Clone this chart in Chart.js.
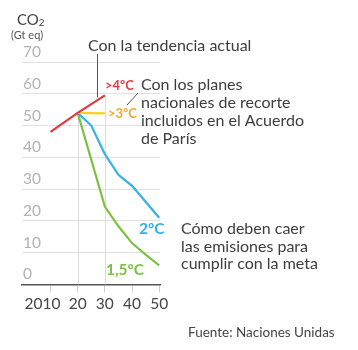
<!DOCTYPE html>
<html>
<head>
<meta charset="utf-8">
<script src="https://cdn.jsdelivr.net/npm/chart.js"></script>
<style>
  html, body { margin: 0; padding: 0; background: #fff; }
  #wrap { width: 358px; height: 350px; position: relative; }
</style>
</head>
<body>
<div id="wrap"><canvas id="co2Chart"></canvas></div>
<script type="text/javascript">
    // emisiones globales, Gt CO2 eq
    var years = [2010, 2020, 2025, 2030, 2035, 2040, 2045, 2050];
    var tendencia = [48, 54, null, 59.5, null, null, null, null];
    var planesParis = [null, 54, null, 53.8, null, null, null, null];
    var meta2 = [null, 54, 50, 41, 34.5, 31, 26, 21];
    var meta15 = [null, 54, null, 24.5, 18.3, 13, 9.4, 6];
    var xTicks = [2010, 2020, 2030, 2040, 2050];
    var yTicks = [0, 10, 20, 30, 40, 50, 60, 70];
    var markerYears = [2020, 2030];

    var FONT = 'Lato, "Open Sans", sans-serif';

    function toPoints(values) {
        var pts = [];
        for (var i = 0; i < years.length; i++) {
            if (values[i] !== null) pts.push({ x: years[i], y: values[i] });
        }
        return pts;
    }

    function lineSet(label, values, color) {
        return {
            label: label,
            data: toPoints(values),
            borderColor: color,
            borderWidth: 2.2,
            pointRadius: 0,
            tension: 0,
            fill: false,
            clip: false
        };
    }

    // grey drop lines under the 2020 / 2030 points
    var dropLines = {
        id: 'dropLines',
        beforeDatasetsDraw: function (chart) {
            var ctx = chart.ctx;
            var xs = chart.scales.x, ys = chart.scales.y;
            ctx.save();
            ctx.strokeStyle = '#dcdcdc';
            ctx.lineWidth = 1;
            markerYears.forEach(function (yr) {
                var top = 0;
                [tendencia, planesParis, meta2, meta15].forEach(function (s) {
                    var v = s[years.indexOf(yr)];
                    if (v !== null && v > top) top = v;
                });
                var px = Math.round(xs.getPixelForValue(yr)) + 0.5;
                ctx.beginPath();
                ctx.moveTo(px, ys.getPixelForValue(top));
                ctx.lineTo(px, ys.getPixelForValue(0));
                ctx.stroke();
            });
            ctx.restore();
        }
    };

    // texts and leader lines
    var notes = {
        id: 'notes',
        afterDraw: function (chart) {
            var ctx = chart.ctx;
            var xs = chart.scales.x, ys = chart.scales.y;
            ctx.save();
            ctx.textBaseline = 'middle';
            ctx.textAlign = 'left';

            ctx.fillStyle = '#444';
            ctx.font = '15px ' + FONT;
            ctx.fillText('CO', 17, 20);
            var w = ctx.measureText('CO').width;
            ctx.font = '10px ' + FONT;
            ctx.fillText('2', 17 + w, 23);
            ctx.fillStyle = '#555';
            ctx.font = '11px ' + FONT;
            ctx.fillText('(Gt eq)', 11, 35);

            ctx.fillStyle = '#3d3d3d';
            ctx.font = '16px ' + FONT;
            ctx.fillText('Con la tendencia actual', 88, 46);
            var lines = ['Con los planes', 'nacionales de recorte', 'incluidos en el Acuerdo', 'de París'];
            lines.forEach(function (t, i) { ctx.fillText(t, 141, 85 + i * 18); });
            var lines2 = ['Cómo deben caer', 'las emisiones para', 'cumplir con la meta'];
            lines2.forEach(function (t, i) { ctx.fillText(t, 181, 229 + i * 17.5); });

            ctx.fillStyle = '#444';
            ctx.font = '13.5px ' + FONT;
            ctx.fillText('Fuente: Naciones Unidas', 188, 333);

            ctx.font = 'bold 13px ' + FONT;
            ctx.fillStyle = '#e2383f';
            ctx.fillText('>4ºC', 105, 86);
            ctx.fillStyle = '#f0a92a';
            ctx.fillText('>3ºC', 108, 114);
            ctx.font = 'bold 15.5px ' + FONT;
            ctx.fillStyle = '#35b1e6';
            ctx.fillText('2ºC', 139, 229);
            ctx.fillStyle = '#7cc242';
            ctx.fillText('1,5ºC', 106, 270);

            // leaders
            ctx.strokeStyle = '#555';
            ctx.lineWidth = 1;
            var lx = Math.round(xs.getPixelForValue(2027)) + 0.5;
            ctx.beginPath();
            ctx.moveTo(lx, 54);
            ctx.lineTo(lx, ys.getPixelForValue(57.9) - 3);
            ctx.stroke();
            ctx.beginPath();
            ctx.moveTo(138, 93);
            ctx.lineTo(127, 105);
            ctx.stroke();
            ctx.restore();
        }
    };

    var ctx = document.getElementById('co2Chart').getContext('2d');
    var co2Chart = new Chart(ctx, {
        type: 'line',
        data: {
            datasets: [
                lineSet('Tendencia actual', tendencia, '#e2383f'),
                lineSet('Planes nacionales', planesParis, '#f6d21c'),
                lineSet('2ºC', meta2, '#35b1e6'),
                lineSet('1,5ºC', meta15, '#7cc242')
            ]
        },
        options: {
            responsive: true,
            maintainAspectRatio: false,
            animation: false,
            events: [],
            layout: { padding: { left: 20, right: 198, top: 62, bottom: 35 } },
            plugins: { legend: { display: false }, tooltip: { enabled: false } },
            scales: {
                x: {
                    type: 'linear',
                    min: 1999.5,
                    max: 2050.3,
                    afterBuildTicks: function (axis) {
                        axis.ticks = xTicks.map(function (v) { return { value: v }; });
                    },
                    grid: { drawOnChartArea: false, drawTicks: true, tickLength: 8, color: '#cfcfcf' },
                    border: { display: true, color: '#555', width: 1.5 },
                    ticks: {
                        padding: 2,
                        color: '#444',
                        font: { family: FONT, size: 15.5 },
                        maxRotation: 0,
                        autoSkip: false,
                        callback: function (v) {
                            return v === 2010 ? '2010    ' : String(v).slice(2);
                        }
                    }
                },
                y: {
                    min: 0,
                    max: 70,
                    afterBuildTicks: function (axis) {
                        axis.ticks = yTicks.map(function (v) { return { value: v }; });
                    },
                    grid: { drawTicks: false, color: '#e0e0e0' },
                    border: { display: false },
                    ticks: {
                        mirror: true,
                        padding: 1,
                        labelOffset: -10,
                        color: '#b3b3b3',
                        font: { family: FONT, size: 15.5 }
                    }
                }
            }
        },
        plugins: [dropLines, notes]
    });
</script>
</body>
</html>
